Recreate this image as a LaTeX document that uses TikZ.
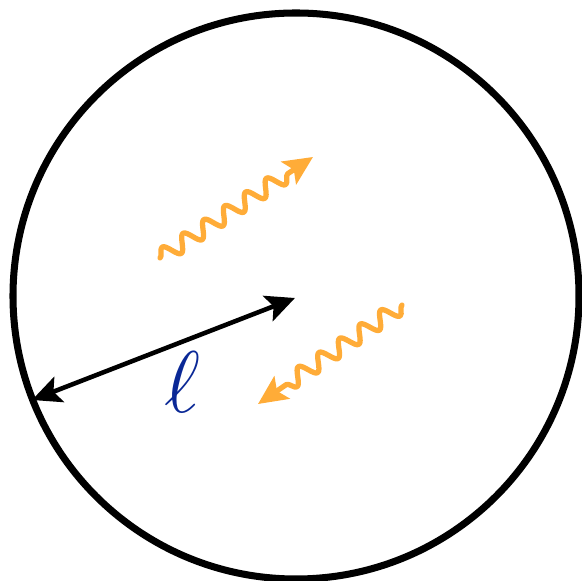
\documentclass[tikz,border=0pt]{standalone}
\usetikzlibrary{arrows.meta,decorations.pathmorphing}

\definecolor{lightorange}{RGB}{255,172,56}
\definecolor{ellblue}{RGB}{10,40,150}

\begin{document}
\begin{tikzpicture}[line width=0.5pt]

  \tikzset{
    wall/.style   = {line width=2pt},
    radius/.style = {line width=1.3pt, {Stealth[length=2.9mm,width=2.7mm,inset=0.6mm]}-{Stealth[length=2.9mm,width=2.7mm,inset=0.6mm]}},
    photon/.style = {lightorange, line width=1.5pt, line cap=round, line join=round,
                     -{Stealth[length=2.9mm,width=2.7mm,inset=0.6mm]},
                     decorate, decoration={snake, segment length=2.5mm,
                     amplitude=0.8mm, post length=2.4mm}},
    lab/.style    = {text=ellblue, font=\fontsize{29}{29}\selectfont},
  }

  \useasboundingbox (-2.96,-2.85) rectangle (2.85,2.96);

  % ---- cavity -------------------------------------------------------------
  \draw[wall] (0,0) circle (2.83);

  % ---- size of the cavity ------------------------------------------------
  \coordinate (c)    at (-0.01,-0.02);
  \coordinate (edge) at (-2.64,-1.04);
  \draw[radius] (edge) -- (c);
  \node[lab] (ell) at (-1.14,-0.86) {$\ell$};

  % ---- photons -------------------------------------------------------------
  \coordinate (p1a) at (-1.36,0.38);
  \coordinate (p1b) at (0.17,1.39);
  \coordinate (p2a) at (1.06,-0.09);
  \coordinate (p2b) at (-0.38,-1.08);
  \draw[photon] (p1a) -- (p1b);
  \draw[photon] (p2a) -- (p2b);

\end{tikzpicture}
\end{document}
